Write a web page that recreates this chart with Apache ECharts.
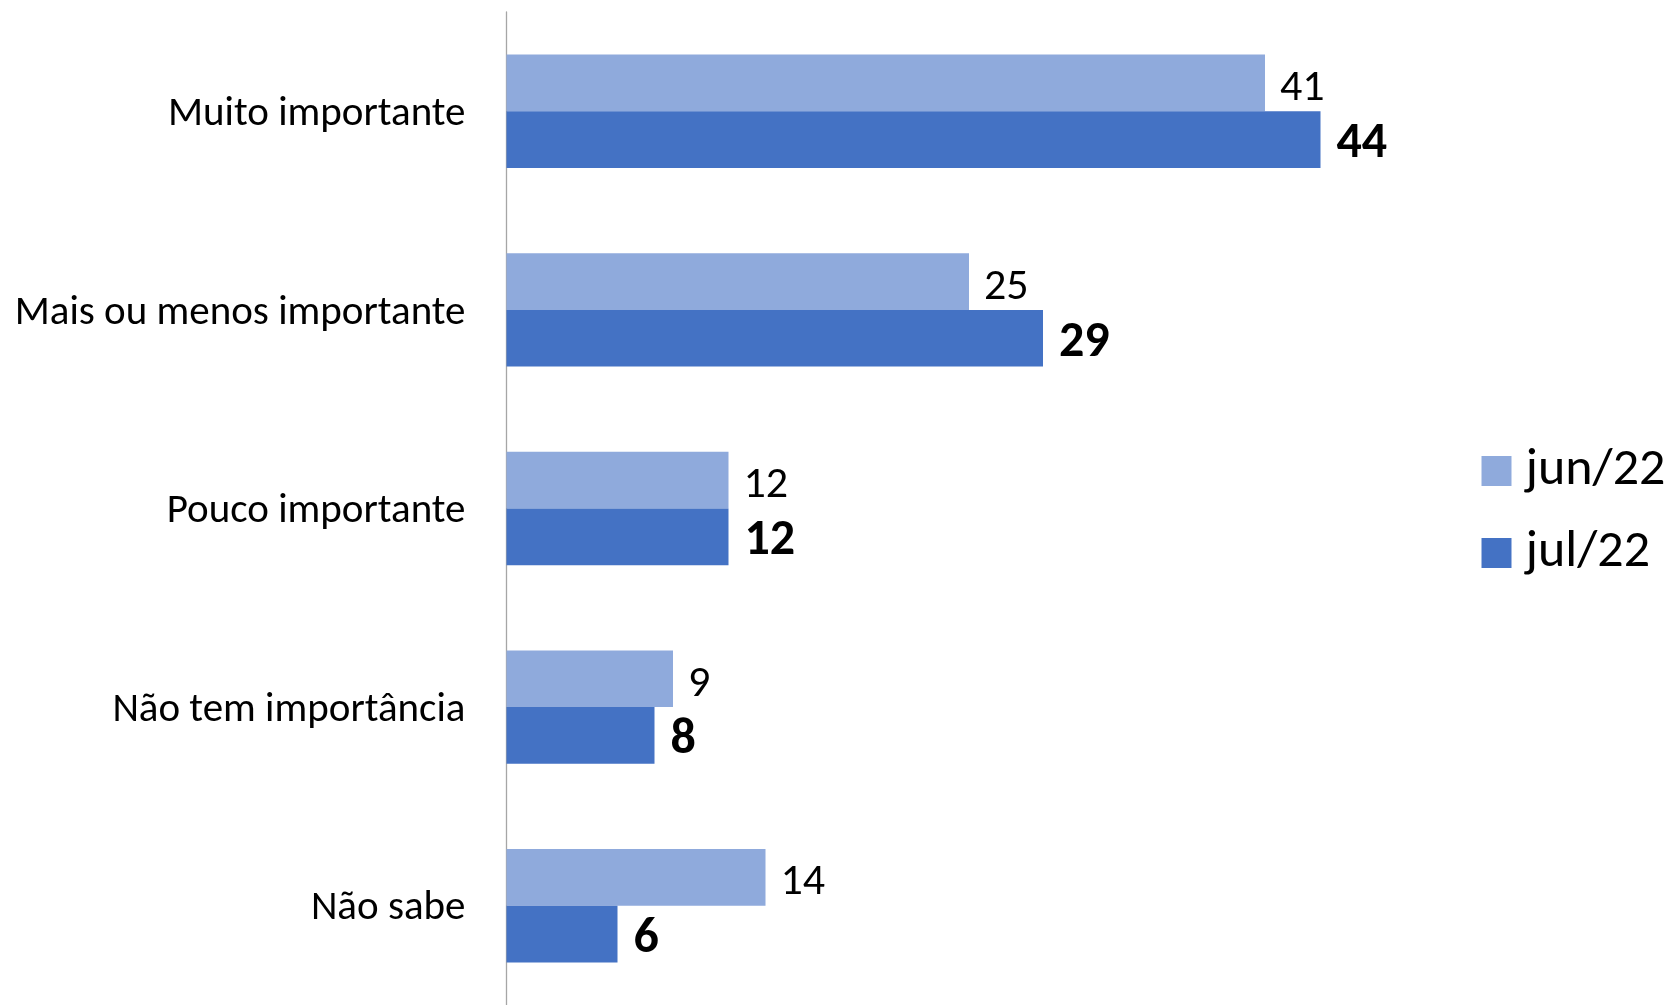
<!DOCTYPE html>
<html>
<head>
<meta charset="utf-8">
<script src="https://cdn.jsdelivr.net/npm/echarts@6/dist/echarts.min.js"></script>
<style>
html,body{margin:0;padding:0;background:#fff;}
#c{width:1671px;height:1005px;}
</style>
</head>
<body>
<div id="c"></div>
<script>
const categories = ["Muito importante", "Mais ou menos importante", "Pouco importante", "Não tem importância", "Não sabe"];
const seriesNames = ["jun/22", "jul/22"];
const jun22 = [41, 25, 12, 9, 14];
const jul22 = [44, 29, 12, 8, 6];

const FONT = "Carlito, Calibri, Lato, sans-serif";
const legendText = {color: '#000', fontFamily: FONT, fontSize: 52, lineHeight: 30, padding: [0, 0, 0, 9]};
const chart = echarts.init(document.getElementById('c'), null, {renderer: 'canvas'});
chart.setOption({
  animation: false,
  backgroundColor: '#ffffff',
  grid: {left: 506.5, top: 12, width: 1110, height: 998, containLabel: false},
  xAxis: {type: 'value', min: 0, max: 60, show: false},
  yAxis: {
    type: 'category', data: categories, inverse: true,
    axisLine: {show: true, lineStyle: {color: '#A6A6A6', width: 1.3}},
    axisTick: {show: false},
    axisLabel: {color: '#000', fontFamily: FONT, fontSize: 41, margin: 41, verticalAlign: 'top', lineHeight: 7}
  },
  legend: [
    {
      orient: 'vertical', left: 1481.5, top: 445, padding: 0,
      itemWidth: 30, itemHeight: 30, icon: 'rect',
      textStyle: legendText, data: [seriesNames[0]]
    },
    {
      orient: 'vertical', left: 1481.5, top: 527, padding: 0,
      itemWidth: 30, itemHeight: 30, icon: 'rect',
      textStyle: legendText, data: [seriesNames[1]]
    }
  ],
  series: [
    {
      name: seriesNames[0], type: 'bar', data: jun22, barWidth: 56.7, barGap: '0%',
      itemStyle: {color: '#8FAADC'},
      label: {show: true, position: 'right', distance: 15, color: '#000', fontFamily: FONT, fontSize: 44, offset: [0, 6]}
    },
    {
      name: seriesNames[1], type: 'bar', data: jul22, barWidth: 56.7, barGap: '0%',
      itemStyle: {color: '#4472C4'},
      label: {show: true, position: 'right', distance: 16, color: '#000', fontFamily: FONT, fontSize: 50, fontWeight: 'bold', offset: [0, 5]}
    }
  ]
});
</script>
</body>
</html>
